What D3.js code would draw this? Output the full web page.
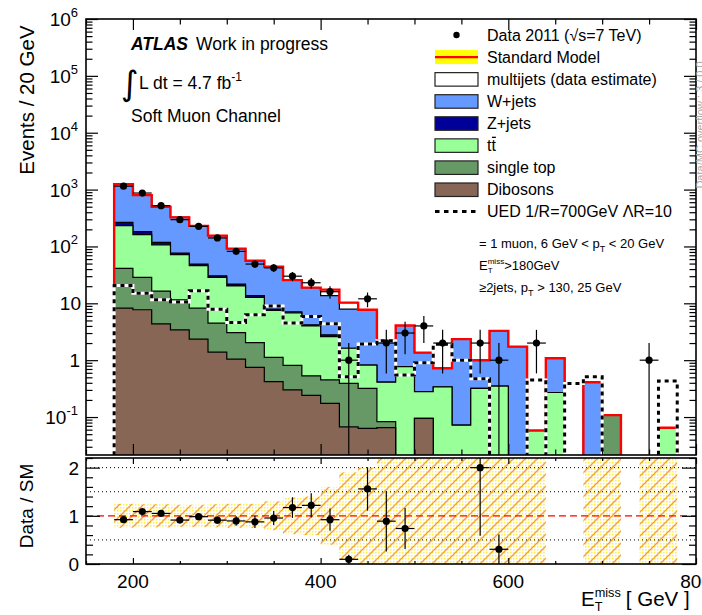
<!DOCTYPE html>
<html>
<head>
<meta charset="utf-8">
<script src="https://cdn.jsdelivr.net/npm/d3@7"></script>
<style>
body { margin: 0; background: #fff; }
svg { font-family: "Liberation Sans", Arial, sans-serif; }
</style>
</head>
<body>
<div id="chart"></div>
<script>
// 20 GeV bins from 180 to 800 GeV
var binEdges = d3.range(180, 801, 20);

// stacked backgrounds (events per bin), bottom of the stack first
var dibosons  = [8.2, 7.7, 4.35, 3.4, 2.34, 1.38, 1.04, 0.75, 0.42, 0.3, 0.24, 0.174, 0.067, 0.063, 0.065, 0, 0.095, 0, 0, 0, 0, 0, 0, 0, 0, 0, 0, 0, 0, 0, 0];
var singleTop = [32.8, 20.8, 12.05, 8.1, 5.86, 3.12, 2.02, 1.29, 0.7, 0.51, 0.29, 0.276, 0.323, 0.257, 0.018, 0, 0, 0, 0, 0, 0, 0, 0, 0, 0, 0, 0.108, 0, 0, 0, 0];
var ttbar     = [191, 132.5, 90.6, 60.1, 37.8, 24, 17.2, 10.7, 6.4, 6.0, 3.47, 2.15, 1.23, 0.5, 0.327, 0.77, 0.185, 0.34, 0.072, 0.32, 0.35, 0, 0.058, 0.27, 0, 0, 0, 0, 0, 0.065, 0];
var zjets     = [33, 21, 11, 5, 3, 2, 1.5, 0.9, 0.4, 0.3, 0.2, 0.2, 0, 0, 0, 0, 0, 0, 0, 0, 0, 0, 0, 0, 0, 0, 0, 0, 0, 0, 0];
var wjets     = [985, 618, 379, 248, 181, 124.5, 70, 42.4, 36.1, 18.5, 14.7, 10.8, 6.28, 6.88, 1.74, 3.3, 1.08, 0.38, 2.27, 0.68, 2.92, 1.73, 0, 0.81, 0, 0.41, 0, 0, 0.01, 0, 0];
var multijets = [0, 0, 0, 0, 0, 0, 0, 0, 0, 0, 0, 3.8, 2.4, 0, 0.1, 0, 0, 0, 0, 0, 0, 0, 0, 0, 0, 0, 0, 0, 0, 0, 0];

// observed events
var dataCounts = [1150, 870, 522, 296, 226, 141, 82, 49, 42, 30, 23, 16, 1, 12, 2, 3, 4, 2, 0, 2, 1, 0, 2, 0, 0, 0, 0, 0, 1, 0, 0];

// signal: UED 1/R=700GeV
var uedSignal = [20.6, 15, 11.5, 10.6, 16.6, 7.9, 4.6, 6.3, 9.0, 4.5, 5.85, 4.35, 0.51, 1.93, 2.2, 0.55, 0.9, 1.9, 1.0, 0.47, 0, 0, 0.45, 0, 0.39, 0.51, 0, 0, 0, 0.43, 0];

// relative SM uncertainty used for the hatched band of the ratio
var smRelErr = [0.25, 0.24, 0.24, 0.23, 0.23, 0.24, 0.25, 0.25, 0.3, 0.38, 0.4, 0.6, 0.9, 1.0, 1.3, 1.4, 1.5, 1.5, 1.5, 1.5, 1.5, 1.5, 1.5, 0, 0, 1.5, 1.5, 0, 1.5, 1.5, 0];

var xTickLabels = [200, 400, 600, 800];
var yDecades = [-1, 0, 1, 2, 3, 4, 5, 6];
var ratioTickLabels = [0, 1, 2];

var W = 702, H = 615;
var main = {left: 86, right: 696, top: 19, bottom: 455};
var rat = {top: 458, bottom: 564};
var yMin = 0.0215;

var x = d3.scaleLinear().domain([150, 800]).range([main.left, main.right]);
var y = d3.scaleLog().domain([yMin, 1e6]).range([main.bottom, main.top]);
var yr = d3.scaleLinear().domain([0, 2.2]).range([rat.bottom, rat.top]);

var yv = function(v) { return v > yMin ? y(v) : main.bottom + 4; };

var svg = d3.select("#chart").append("svg")
    .attr("width", W).attr("height", H);

var defs = svg.append("defs");
defs.append("clipPath").attr("id", "clipMain").append("rect")
    .attr("x", main.left).attr("y", main.top)
    .attr("width", main.right - main.left).attr("height", main.bottom - main.top);
defs.append("clipPath").attr("id", "clipRatio").append("rect")
    .attr("x", main.left).attr("y", rat.top)
    .attr("width", main.right - main.left).attr("height", rat.bottom - rat.top);

// yellow dots + orange hatching for the SM uncertainty band
var dots = defs.append("pattern").attr("id", "dots")
    .attr("patternUnits", "userSpaceOnUse").attr("width", 3).attr("height", 3);
dots.append("rect").attr("width", 1.5).attr("height", 1.5).attr("fill", "#ffee44");
var hatch = defs.append("pattern").attr("id", "hatch")
    .attr("patternUnits", "userSpaceOnUse").attr("width", 12).attr("height", 12);
hatch.append("path").attr("d", "M0,12 L12,0 M-3,3 L3,-3 M9,15 L15,9")
    .attr("stroke", "#ff9933").attr("stroke-width", 1.3);

// ---------- stacked histograms ----------
var layers = [
    {values: dibosons,  color: "#886655"},
    {values: singleTop, color: "#669966"},
    {values: ttbar,     color: "#99ff99"},
    {values: zjets,     color: "#000099"},
    {values: wjets,     color: "#6699ff"},
    {values: multijets, color: "#ffffff"}
];
var running = binEdges.slice(0, -1).map(function() { return 0; });
layers.forEach(function(l) {
    running = running.map(function(r, i) { return r + l.values[i]; });
    l.cum = running.slice();
});
var total = layers[layers.length - 1].cum;

var stepPts = function(vals) {
    var pts = vals.map(function(v, i) { return [binEdges[i], v]; });
    pts.push([binEdges[binEdges.length - 1], vals[vals.length - 1]]);
    return pts;
};

var area = d3.area().curve(d3.curveStepAfter)
    .x(function(d) { return x(d[0]); })
    .y0(main.bottom + 4)
    .y1(function(d) { return yv(d[1]); });
var line = d3.line().curve(d3.curveStepAfter)
    .x(function(d) { return x(d[0]); })
    .y(function(d) { return yv(d[1]); });

var plotG = svg.append("g").attr("clip-path", "url(#clipMain)");

layers.slice().reverse().forEach(function(l) {
    plotG.append("path")
        .attr("d", area(stepPts(l.cum)))
        .attr("fill", l.color)
        .attr("stroke", "#000").attr("stroke-width", 1.2);
});

var totalPts = [[180, 0]].concat(stepPts(total)).concat([[800, 0]]);
plotG.append("path").attr("d", line(totalPts))
    .attr("fill", "none").attr("stroke", "#ff0000").attr("stroke-width", 2.4);

// UED signal: white under black dashes
var uedPts = [[150, 0]].concat(stepPts(uedSignal));
plotG.append("path").attr("d", line(uedPts))
    .attr("fill", "none").attr("stroke", "#fff").attr("stroke-width", 3);
plotG.append("path").attr("d", line(uedPts))
    .attr("fill", "none").attr("stroke", "#000").attr("stroke-width", 3)
    .attr("stroke-dasharray", "4,4");

// data points
var dataBins = dataCounts.map(function(n, i) {
    return {n: n, lo: binEdges[i], hi: binEdges[i + 1], sm: total[i]};
}).filter(function(d) { return d.n > 0; });

var dataG = plotG.append("g");
dataBins.forEach(function(d) {
    var cx = x((d.lo + d.hi) / 2), cy = y(d.n), e = Math.sqrt(d.n);
    dataG.append("line").attr("x1", x(d.lo)).attr("x2", x(d.hi))
        .attr("y1", cy).attr("y2", cy).attr("stroke", "#000").attr("stroke-width", 1.2);
    dataG.append("line").attr("x1", cx).attr("x2", cx)
        .attr("y1", y(d.n + e)).attr("y2", yv(d.n - e))
        .attr("stroke", "#000").attr("stroke-width", 1.2);
    dataG.append("circle").attr("cx", cx).attr("cy", cy).attr("r", 3.6).attr("fill", "#000");
});

// ---------- ratio panel ----------
var ratG = svg.append("g").attr("clip-path", "url(#clipRatio)");
total.forEach(function(sm, i) {
    if (sm <= 0 || smRelErr[i] <= 0) return;
    var top = yr(Math.min(2.3, 1 + smRelErr[i])), bot = yr(Math.max(-0.1, 1 - smRelErr[i]));
    ["url(#dots)", "url(#hatch)"].forEach(function(f) {
        ratG.append("rect").attr("x", x(binEdges[i])).attr("width", x(binEdges[i + 1]) - x(binEdges[i]))
            .attr("y", top).attr("height", bot - top).attr("fill", f);
    });
});
[0.5, 1.5, 2].forEach(function(v) {
    ratG.append("line").attr("x1", main.left).attr("x2", main.right)
        .attr("y1", yr(v)).attr("y2", yr(v))
        .attr("stroke", "#000").attr("stroke-width", 1).attr("stroke-dasharray", "1,3");
});
ratG.append("line").attr("x1", main.left).attr("x2", main.right)
    .attr("y1", yr(1)).attr("y2", yr(1))
    .attr("stroke", "#ff0000").attr("stroke-width", 1.3).attr("stroke-dasharray", "7,4");

dataBins.filter(function(d) { return d.sm > 0 && d.n / d.sm < 2.2; }).forEach(function(d) {
    var r = d.n / d.sm, e = Math.sqrt(d.n) / d.sm;
    var cx = x((d.lo + d.hi) / 2), cy = yr(r);
    ratG.append("line").attr("x1", x(d.lo)).attr("x2", x(d.hi))
        .attr("y1", cy).attr("y2", cy).attr("stroke", "#000").attr("stroke-width", 1.2);
    ratG.append("line").attr("x1", cx).attr("x2", cx)
        .attr("y1", yr(r + e)).attr("y2", yr(Math.max(-0.1, r - e)))
        .attr("stroke", "#000").attr("stroke-width", 1.2);
    ratG.append("circle").attr("cx", cx).attr("cy", cy).attr("r", 3.6).attr("fill", "#000");
});

// ---------- axes ----------
var majorX = d3.range(200, 801, 200);
var minorX = d3.range(150, 801, 50).filter(function(v) { return majorX.indexOf(v) < 0; });
var majorY = yDecades.map(function(p) { return Math.pow(10, p); });
var minorY = [];
d3.range(-2, 6).forEach(function(p) {
    d3.range(2, 10).forEach(function(m) {
        var v = m * Math.pow(10, p);
        if (v > yMin && v < 1e6) minorY.push(v);
    });
});

var addTicks = function(axis, scale, values, size, tx, ty) {
    var g = svg.append("g").attr("transform", "translate(" + tx + "," + ty + ")")
        .call(axis(scale).tickValues(values).tickSize(-size).tickSizeOuter(0).tickFormat(""));
    g.select(".domain").remove();
    g.selectAll(".tick line").attr("stroke", "#000").attr("stroke-width", 1.2);
};

// main panel
addTicks(d3.axisBottom, x, majorX, 11, 0, main.bottom);
addTicks(d3.axisBottom, x, minorX, 5.5, 0, main.bottom);
addTicks(d3.axisTop, x, majorX, 11, 0, main.top);
addTicks(d3.axisTop, x, minorX, 5.5, 0, main.top);
addTicks(d3.axisLeft, y, majorY, 12, main.left, 0);
addTicks(d3.axisLeft, y, minorY, 6.5, main.left, 0);
addTicks(d3.axisRight, y, majorY, 12, main.right, 0);
addTicks(d3.axisRight, y, minorY, 6.5, main.right, 0);

// ratio panel
var minorR = d3.range(0, 2.21, 0.2).filter(function(v) { return Math.abs(v - Math.round(v)) > 0.01; });
addTicks(d3.axisBottom, x, majorX, 6, 0, rat.bottom);
addTicks(d3.axisBottom, x, minorX, 3, 0, rat.bottom);
addTicks(d3.axisTop, x, majorX, 6, 0, rat.top);
addTicks(d3.axisTop, x, minorX, 3, 0, rat.top);
addTicks(d3.axisLeft, yr, ratioTickLabels, 14, main.left, 0);
addTicks(d3.axisLeft, yr, minorR, 7, main.left, 0);
addTicks(d3.axisRight, yr, ratioTickLabels, 14, main.right, 0);
addTicks(d3.axisRight, yr, minorR, 7, main.right, 0);

// frames
[[main.top, main.bottom], [rat.top, rat.bottom]].forEach(function(p) {
    svg.append("rect").attr("x", main.left).attr("y", p[0])
        .attr("width", main.right - main.left).attr("height", p[1] - p[0])
        .attr("fill", "none").attr("stroke", "#000").attr("stroke-width", 1.6);
});

// tick labels
var labelG = svg.append("g").attr("fill", "#000");
yDecades.forEach(function(p) {
    var t = labelG.append("text").attr("y", y(Math.pow(10, p)) + 7).attr("font-size", 19)
        .attr("text-anchor", "end");
    if (p === 0) {
        t.attr("x", 80).text("1");
    } else if (p === 1) {
        t.attr("x", 81).text("10");
    } else {
        t.attr("x", 78).text("10");
        t.append("tspan").attr("font-size", 13).attr("dy", -9).text(p);
    }
});
ratioTickLabels.forEach(function(v) {
    labelG.append("text").attr("x", 79).attr("y", yr(v) + 7).attr("font-size", 19)
        .attr("text-anchor", "end").text(v);
});
xTickLabels.forEach(function(v) {
    labelG.append("text").attr("x", x(v)).attr("y", 588).attr("font-size", 19)
        .attr("text-anchor", "middle").text(v);
});

// E_T^miss helper: stacked sub/superscript
var etMiss = function(g, x0, y0, size) {
    var e = g.append("text").attr("x", x0).attr("y", y0).attr("font-size", size).text("E");
    var w = e.node().getComputedTextLength();
    var s = size * 0.62;
    var sup = g.append("text").attr("x", x0 + w).attr("y", y0 - size * 0.45).attr("font-size", s).text("miss");
    var sub = g.append("text").attr("x", x0 + w).attr("y", y0 + size * 0.25).attr("font-size", s).text("T");
    return x0 + w + Math.max(sup.node().getComputedTextLength(), sub.node().getComputedTextLength());
};

// axis titles
var xEnd = etMiss(labelG, 581, 606, 20.5);
labelG.append("text").attr("x", xEnd + 5).attr("y", 606).attr("font-size", 20.5).text("[ GeV ]");

labelG.append("text").attr("transform", "translate(34,100) rotate(-90)")
    .attr("text-anchor", "middle").attr("font-size", 20.5).text("Events / 20 GeV");
labelG.append("text").attr("transform", "translate(33,506) rotate(-90)")
    .attr("text-anchor", "middle").attr("font-size", 19).text("Data / SM");

// overflow note along the right edge
labelG.append("text").attr("transform", "translate(704,125) rotate(-90)")
    .attr("text-anchor", "middle").attr("font-size", 11).attr("fill", "#aaa")
    .text("Data/MC overflow : 3 / 0.0");

// ATLAS label block
var atl = labelG.append("text").attr("x", 131).attr("y", 50).attr("font-size", 17.5);
atl.append("tspan").attr("font-weight", "bold").attr("font-style", "italic").text("ATLAS");
atl.append("tspan").attr("dx", 8).text("Work in progress");
labelG.append("text").attr("x", 121).attr("y", 95).attr("font-size", 34)
    .attr("font-family", "DejaVu Sans").text("\u222B");
var lumi = labelG.append("text").attr("x", 139).attr("y", 89).attr("font-size", 17.5).text("L dt = 4.7 fb");
lumi.append("tspan").attr("dy", -8).attr("font-size", 12).text("-1");
labelG.append("text").attr("x", 131).attr("y", 122).attr("font-size", 17.5).text("Soft Muon Channel");

// ---------- legend ----------
var legendEntries = [
    {label: "Data 2011 (\u221As=7 TeV)", kind: "data"},
    {label: "Standard Model", kind: "sm"},
    {label: "multijets (data estimate)", kind: "box", color: "#ffffff"},
    {label: "W+jets", kind: "box", color: "#6699ff"},
    {label: "Z+jets", kind: "box", color: "#000099"},
    {label: "tt", kind: "box", color: "#99ff99", bar: true},
    {label: "single top", kind: "box", color: "#669966"},
    {label: "Dibosons", kind: "box", color: "#886655"},
    {label: "UED 1/R=700GeV \u039BR=10", kind: "dash"}
];
var legG = svg.append("g");
legendEntries.forEach(function(d, i) {
    var cy = 35 + i * 22.07;
    if (d.kind === "data") {
        legG.append("circle").attr("cx", 456.5).attr("cy", cy).attr("r", 3.2).attr("fill", "#000");
    } else if (d.kind === "sm") {
        legG.append("rect").attr("x", 435).attr("y", cy - 7).attr("width", 43).attr("height", 14).attr("fill", "#ffff00");
        legG.append("line").attr("x1", 435).attr("x2", 478).attr("y1", cy).attr("y2", cy)
            .attr("stroke", "#ff0000").attr("stroke-width", 2.2);
    } else if (d.kind === "box") {
        legG.append("rect").attr("x", 435).attr("y", cy - 6.5).attr("width", 43).attr("height", 13.5)
            .attr("fill", d.color).attr("stroke", "#222").attr("stroke-width", 1.2);
    } else {
        legG.append("line").attr("x1", 435).attr("x2", 478).attr("y1", cy).attr("y2", cy)
            .attr("stroke", "#000").attr("stroke-width", 3).attr("stroke-dasharray", "4.5,4.5");
    }
    var t = legG.append("text").attr("x", 487).attr("y", cy + 5.8).attr("font-size", 16).text(d.label);
    if (d.bar) {
        var tw = t.node().getComputedTextLength();
        legG.append("line").attr("x1", 487 + tw / 2 + 0.5).attr("x2", 487 + tw)
            .attr("y1", cy - 8).attr("y2", cy - 8).attr("stroke", "#000").attr("stroke-width", 1.3);
    }
});

// selection notes
var noteG = svg.append("g").attr("font-size", 13);
var n1 = noteG.append("text").attr("x", 479).attr("y", 248).text("= 1 muon, 6 GeV < p");
n1.append("tspan").attr("dy", 4).attr("font-size", 9).text("T");
n1.append("tspan").attr("dy", -4).text(" < 20 GeV");
var n2x = etMiss(noteG, 479, 270, 13);
noteG.append("text").attr("x", n2x).attr("y", 270).text(">180GeV");
var n3 = noteG.append("text").attr("x", 479).attr("y", 292).text("\u22652jets, p");
n3.append("tspan").attr("dy", 4).attr("font-size", 9).text("T");
n3.append("tspan").attr("dy", -4).text(" > 130, 25 GeV");
</script>
</body>
</html>
